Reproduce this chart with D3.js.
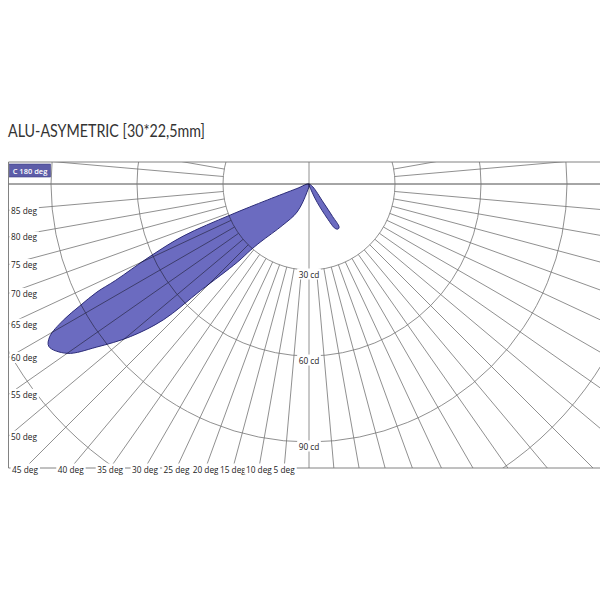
<!DOCTYPE html>
<html><head><meta charset="utf-8">
<script src="https://cdn.jsdelivr.net/npm/d3@7"></script>
<style>html,body{margin:0;padding:0;background:#fff;}svg{display:block;}</style>
</head><body>
<script>
// ---- data ----
const title = "ALU-ASYMETRIC [30*22,5mm]";
const planeLabel = "C 180 deg";
const cdTicks = [30, 60, 90, 120];
const cdLabelTicks = [30, 60, 90];
const leftAngleLabels = [85, 80, 75, 70, 65, 60, 55, 50];
const bottomAngleLabels = [45, 40, 35, 30, 25, 20, 15, 10, 5];
// C180 half-plane (drawn to the left), angle from nadir in degrees, intensity in cd
const c180Angle = [0, 14, 23, 32.5, 40, 41.5, 42.5, 45.5, 47, 49.5, 52.5, 55, 58, 59.5, 61, 62, 63, 63.5, 65.5, 67.5, 68.5, 69, 69.5];
const c180Cd    = [0, 2.9, 10.6, 17, 26.5, 31, 37, 53, 69.5, 82, 93.5, 103, 107, 105, 98, 90.5, 83, 75.5, 61, 47.5, 29.5, 15.5, 4.5];
// C0 half-plane (drawn to the right)
const c0Angle = [0, 20.5, 24, 28, 30.5, 33, 35, 36, 38, 53];
const c0Cd    = [0, 3, 7, 13.5, 18, 18.7, 18.3, 14, 8, 1.7];

// ---- layout ----
const W = 600, H = 600;
const cx = 309, cy = 184;
const box = {x0: 8.5, y0: 162, x1: 620, y1: 468};
const rScale = d3.scaleLinear().domain([0, 120]).range([0, 344]);
const rad = d => d * Math.PI / 180;

const svg = d3.select("body").append("svg").attr("width", W).attr("height", H);
svg.append("rect").attr("width", W).attr("height", H).attr("fill", "#fff");

svg.append("text").attr("x", 8).attr("y", 137)
  .attr("font-family", "Lato, 'Open Sans', sans-serif").attr("font-size", 16.5)
  .attr("fill", "#333").attr("textLength", 197).attr("lengthAdjust", "spacingAndGlyphs")
  .text(title);

svg.append("defs").append("clipPath").attr("id", "clip")
  .append("rect").attr("x", box.x0).attr("y", box.y0)
  .attr("width", box.x1 - box.x0).attr("height", box.y1 - box.y0);

const plot = svg.append("g").attr("clip-path", "url(#clip)");

// lobes
const lobe = d3.lineRadial()
  .angle(d => Math.PI + d.a)
  .radius(d => rScale(d.cd))
  .curve(d3.curveCatmullRomClosed.alpha(0.5));
const left = c180Angle.map((a, i) => ({a: rad(a), cd: c180Cd[i]}));
const right = c0Angle.map((a, i) => ({a: -rad(a), cd: c0Cd[i]}));
const lobes = plot.append("g").attr("transform", `translate(${cx},${cy})`);
[left, right].forEach(pts => {
  lobes.append("path").attr("d", lobe(pts))
    .attr("fill", "#6b6bc0").attr("stroke", "#2c2c78").attr("stroke-width", 1);
});

// grid
const grid = plot.append("g").attr("transform", `translate(${cx},${cy})`)
  .style("mix-blend-mode", "multiply")
  .attr("stroke", "#747474").attr("stroke-width", 0.8).attr("fill", "none");
const rays = d3.range(-100, 101, 5);
const rayPath = d3.lineRadial().angle(d => d[0]).radius(d => d[1]);
rays.forEach(d => {
  const full = (d === 0 || Math.abs(d) === 90);
  const r0 = full ? -rScale(400) : rScale(cdTicks[0]);
  grid.append("path").attr("d", rayPath([[Math.PI + rad(d), r0], [Math.PI + rad(d), rScale(400)]]));
});
cdTicks.forEach(c => grid.append("circle").attr("r", rScale(c)));

// frame
const frame = svg.append("g").attr("stroke", "#747474").attr("stroke-width", 0.9).attr("fill", "none");
frame.append("line").attr("x1", box.x0).attr("x2", W).attr("y1", box.y0).attr("y2", box.y0);
frame.append("line").attr("x1", box.x0).attr("x2", W).attr("y1", box.y1).attr("y2", box.y1);
frame.append("line").attr("x1", box.x0).attr("x2", box.x0).attr("y1", box.y0).attr("y2", box.y1);

// labels with white backing
const labels = svg.append("g").attr("font-family", "'Open Sans', sans-serif").attr("font-size", 8.3)
  .attr("fill", "#222");
function label(x, y, txt, anchor) {
  const g = labels.append("g");
  const t = g.append("text").attr("x", x).attr("y", y).attr("text-anchor", anchor)
    .attr("dominant-baseline", "central").text(txt);
  const b = t.node().getBBox();
  g.insert("rect", "text").attr("x", b.x - 1.5).attr("y", b.y).attr("width", b.width + 3)
    .attr("height", b.height).attr("fill", "#fff");
}
leftAngleLabels.forEach(a => {
  const y = cy + (cx - box.x0) / Math.tan(rad(a));
  label(box.x0 + 2.5, y, a + " deg", "start");
});
bottomAngleLabels.forEach(a => {
  const x = cx - (box.y1 - cy) * Math.tan(rad(a));
  label(x, box.y1 + 1, a + " deg", "middle");
});
cdLabelTicks.forEach(c => label(cx, cy + rScale(c) + 4, c + " cd", "middle"));

// plane tag
const tag = svg.append("g");
tag.append("rect").attr("x", box.x0 + 1).attr("y", box.y0 + 2).attr("width", 41).attr("height", 13)
  .attr("fill", "#5c5ca8").attr("stroke", "#3c3c80").attr("stroke-width", 0.6);
tag.append("text").attr("x", box.x0 + 21.5).attr("y", box.y0 + 9).attr("text-anchor", "middle")
  .attr("dominant-baseline", "central").attr("font-family", "'Open Sans', sans-serif")
  .attr("font-size", 7.5).attr("font-weight", 600).attr("fill", "#fff").text(planeLabel);
</script>
</body></html>
